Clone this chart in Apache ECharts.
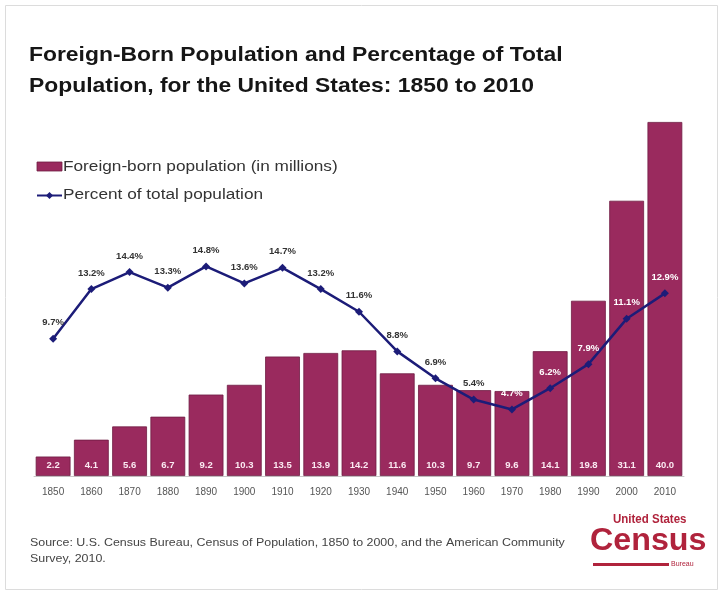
<!DOCTYPE html>
<html><head><meta charset="utf-8">
<script src="https://cdn.jsdelivr.net/npm/echarts@6/dist/echarts.min.js"></script>
<style>html,body{margin:0;padding:0;background:#fff}#c{width:720px;height:596px}</style>
</head><body><div id="c"></div>
<script>
const years = ['1850','1860','1870','1880','1890','1900','1910','1920','1930','1940','1950','1960','1970','1980','1990','2000','2010'];
const foreignBorn = [2.2,4.1,5.6,6.7,9.2,10.3,13.5,13.9,14.2,11.6,10.3,9.7,9.6,14.1,19.8,31.1,40.0];
const percentTotal = [9.7,13.2,14.4,13.3,14.8,13.6,14.7,13.2,11.6,8.8,6.9,5.4,4.7,6.2,7.9,11.1,12.9];
const whiteLabelFrom = 12; // labels drawn inside bars from 1970 on
const seriesNames = ['Foreign-born population (in millions)', 'Percent of total population'];

const chart = echarts.init(document.getElementById('c'));
const red = '#b0233c';
const barColor = '#9a2a5e';
const lineColor = '#1c1c78';
chart.setOption({
  animation: false,
  backgroundColor: '#fff',
  legend: {show: false, data: seriesNames},
  grid: {left: 34, right: 36, top: 122, bottom: 120, containLabel: false},
  xAxis: {
    type: 'category', data: years,
    axisLine: {lineStyle: {color: '#c8c8c8', width: 1}},
    axisTick: {show: false},
    axisLabel: {color: '#555', fontFamily: 'Liberation Sans', fontSize: 10, margin: 11}
  },
  yAxis: [
    {type: 'value', min: 0, max: 40, show: false, splitLine: {show: false}},
    {type: 'value', min: 0, max: 25, show: false, splitLine: {show: false}}
  ],
  series: [
    {
      name: seriesNames[0], type: 'bar',
      data: foreignBorn, barCategoryGap: '9%',
      itemStyle: {color: barColor, borderColor: '#6f1c43', borderWidth: 0.8},
      label: {show: true, position: 'insideBottom', distance: 6, color: '#fbeaf2',
        fontFamily: 'Liberation Sans', fontWeight: 'bold', fontSize: 9.5,
        formatter: p => p.value.toFixed(1)}
    },
    {
      name: seriesNames[1], type: 'line', yAxisIndex: 1,
      data: percentTotal.map((v, i) => ({value: v, label: {color: i >= whiteLabelFrom ? '#fff' : '#333'}})),
      symbol: 'diamond', symbolSize: 8,
      lineStyle: {color: lineColor, width: 2.5},
      itemStyle: {color: lineColor},
      label: {show: true, position: 'top', distance: 7, fontFamily: 'Liberation Sans', fontWeight: 'bold', fontSize: 9.5,
        formatter: p => p.value.toFixed(1) + '%'}
    }
  ],
  graphic: [
    {type: 'rect', shape: {x: 5.5, y: 5.5, width: 712, height: 584}, style: {fill: 'none', stroke: '#dcdcdc', lineWidth: 1}, silent: true},
    // title
    {type: 'text', x: 29, y: 40, scaleX: 1.09, style: {text: 'Foreign-Born Population and Percentage of Total\nPopulation, for the United States: 1850 to 2010',
      fontFamily: 'Liberation Sans', fontWeight: 'bold', fontSize: 21, lineHeight: 31, fill: '#161616'}},
    // legend
    {type: 'rect', shape: {x: 37, y: 162, width: 25, height: 9}, style: {fill: barColor, stroke: '#6f1c43', lineWidth: 0.8}},
    {type: 'text', x: 63, y: 160, scaleX: 1.23, style: {text: seriesNames[0], fontFamily: 'Liberation Sans', fontSize: 14, fill: '#333'}},
    {type: 'line', shape: {x1: 37, y1: 195.5, x2: 62, y2: 195.5}, style: {stroke: lineColor, lineWidth: 2}},
    {type: 'polygon', shape: {points: [[49.5, 192], [53, 195.5], [49.5, 199], [46, 195.5]]}, style: {fill: lineColor}},
    {type: 'text', x: 63, y: 188, scaleX: 1.23, style: {text: seriesNames[1], fontFamily: 'Liberation Sans', fontSize: 14, fill: '#333'}},
    // source
    {type: 'text', x: 30, y: 535, scaleX: 1.13, style: {text: 'Source: U.S. Census Bureau, Census of Population, 1850 to 2000, and the American Community\nSurvey, 2010.', fontFamily: 'Liberation Sans', fontSize: 11, lineHeight: 16, fill: '#444'}},
    // logo
    {type: 'text', x: 613, y: 513, scaleX: 0.92, style: {text: 'United States', fontFamily: 'Liberation Sans', fontWeight: 'bold', fontSize: 12.5, fill: red}},
    {type: 'text', x: 590, y: 526, scaleX: 1.04, style: {text: 'Census', fontFamily: 'Liberation Sans', fontWeight: 'bold', fontSize: 31, fill: red}},
    {type: 'rect', shape: {x: 593, y: 563, width: 76, height: 3}, style: {fill: red}},
    {type: 'text', x: 671, y: 561, style: {text: 'Bureau', fontFamily: 'Liberation Sans', fontSize: 7, fill: red}}
  ]
});
</script></body></html>
